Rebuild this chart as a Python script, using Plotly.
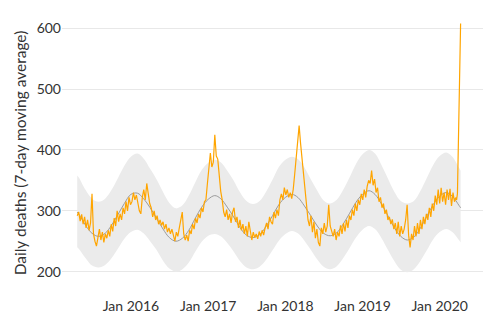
import pandas as pd
import plotly.graph_objects as go

# ---- observed daily deaths (7-day moving average), weekly readings (Wednesdays) ----
obs_2015 = [292, 298, 283, 294, 278, 290, 272, 285, 268, 280,
            328, 262, 250, 242, 256, 270, 252, 265, 248, 262,
            255, 268, 258, 278, 266, 288, 275, 300, 282, 295,
            285, 305, 295, 315, 300, 322, 310]
obs_2016 = [315, 330, 318, 326, 312, 300, 295, 322, 335, 318,
            345, 325, 312, 305, 290, 300, 285, 292, 278, 285,
            276, 282, 270, 278, 265, 272, 262, 270, 258, 250,
            265, 258, 272, 285, 298, 262, 252, 260, 250, 268,
            262, 278, 270, 288, 280, 295, 288, 305, 298, 315,
            318, 345]
obs_2017 = [365, 395, 372, 380, 425, 390, 385, 350, 332, 318,
            298, 290, 302, 285, 295, 280, 298, 305, 282, 290,
            272, 285, 268, 278, 262, 275, 258, 282, 262, 252,
            265, 256, 262, 254, 266, 258, 268, 260, 272, 280,
            270, 290, 282, 278, 298, 288, 302, 292, 318, 328,
            318, 338]
obs_2018 = [326, 335, 322, 330, 320, 335, 360, 385, 410, 440,
            410, 385, 350, 325, 300, 285, 275, 292, 265, 282,
            255, 270, 248, 242, 272, 262, 280, 265, 275, 310,
            275, 265, 258, 270, 252, 265, 258, 276, 262, 280,
            266, 285, 272, 292, 285, 302, 292, 312, 300, 318,
            310, 328]
obs_2019 = [318, 335, 322, 340, 350, 345, 366, 342, 352, 330,
            338, 315, 322, 305, 312, 295, 302, 285, 290, 278,
            286, 270, 280, 262, 282, 258, 275, 262, 270, 285,
            310, 260, 240, 262, 252, 275, 258, 280, 262, 285,
            270, 290, 278, 295, 285, 305, 290, 312, 300, 325,
            310, 335]
obs_2020 = [312, 338, 315, 330, 310, 335, 318, 336, 308, 330, 315, 322]

# final days of the series (the sharp rise)
spike_dates = ["2020-03-21", "2020-03-25", "2020-03-28", "2020-03-31",
               "2020-04-03", "2020-04-06", "2020-04-09"]
spike_vals = [318, 328, 395, 470, 535, 580, 608]

# ---- expected (seasonal baseline) and its range, monthly readings ----
exp_start_date, exp_end_date = "2015-04-22", "2020-04-09"
expected = [298,
            294, 276, 263, 258, 263, 276, 294, 312,
            327, 329, 320, 305, 288, 270, 256, 250, 255, 268, 288, 306,
            319, 325, 320, 306, 290, 272, 260, 256, 261, 274, 292, 310,
            322, 327, 322, 308, 292, 275, 263, 259, 264, 278, 296, 314,
            327, 333, 327, 311, 292, 272, 258, 252, 257, 271, 291, 310,
            324, 330, 324, 309,
            305]
upper = [358,
         354, 334, 320, 315, 320, 334, 354, 374,
         389, 394, 386, 369, 352, 331, 313, 304, 309, 325, 347, 367,
         379, 384, 380, 366, 350, 330, 316, 311, 316, 331, 351, 372,
         384, 389, 385, 371, 352, 333, 317, 312, 318, 334, 355, 377,
         393, 400, 394, 375, 353, 331, 316, 312, 316, 332, 354, 375,
         390, 396, 389, 371,
         366]
lower = [240,
         237, 222, 210, 207, 211, 222, 238, 254,
         265, 269, 263, 250, 236, 218, 205, 200, 204, 215, 233, 249,
         259, 262, 258, 247, 233, 217, 207, 204, 208, 219, 235, 251,
         262, 267, 263, 251, 236, 220, 208, 204, 209, 222, 239, 256,
         269, 275, 270, 255, 236, 217, 203, 199, 204, 217, 235, 253,
         265, 270, 265, 252,
         248]

y_ticks = [200, 300, 400, 500, 600]
x_tick_dates = ["2016-01-01", "2017-01-01", "2018-01-01", "2019-01-01", "2020-01-01"]
x_tick_text = ["Jan 2016", "Jan 2017", "Jan 2018", "Jan 2019", "Jan 2020"]

# ---- build series ----
weekly_vals = obs_2015 + obs_2016 + obs_2017 + obs_2018 + obs_2019 + obs_2020
weekly_dates = pd.date_range("2015-04-22", periods=len(weekly_vals), freq="7D")
obs_dates = list(weekly_dates) + list(pd.to_datetime(spike_dates))
obs_vals = weekly_vals + spike_vals

month_dates = pd.date_range("2015-05-01", "2020-04-01", freq="MS")
exp_dates = [pd.Timestamp(exp_start_date)] + list(month_dates) + [pd.Timestamp(exp_end_date)]

fig = go.Figure()
fig.add_trace(go.Scatter(x=exp_dates, y=upper, mode="lines",
                         line=dict(width=0, shape="spline", color="rgba(0,0,0,0)"),
                         hoverinfo="skip", showlegend=False))
fig.add_trace(go.Scatter(x=exp_dates, y=lower, mode="lines",
                         line=dict(width=0, shape="spline", color="rgba(0,0,0,0)"),
                         fill="tonexty", fillcolor="#ebebeb",
                         hoverinfo="skip", showlegend=False))
fig.add_trace(go.Scatter(x=exp_dates, y=expected, mode="lines",
                         line=dict(width=1, shape="spline", color="#9a9a9a"),
                         showlegend=False))
fig.add_trace(go.Scatter(x=obs_dates, y=obs_vals, mode="lines",
                         line=dict(width=1.2, color="#FFA500"),
                         showlegend=False))

fig.update_layout(
    width=487, height=331,
    margin=dict(l=62, r=4, t=10, b=35),
    paper_bgcolor="white", plot_bgcolor="white",
    font=dict(family="Lato, 'Open Sans', sans-serif", size=14, color="#333333"),
    xaxis=dict(range=["2015-02-09", "2020-07-24"], showgrid=False, zeroline=False,
               showline=False, ticks="", tickvals=x_tick_dates, ticktext=x_tick_text,
               tickfont=dict(size=14, color="#333333")),
    yaxis=dict(range=[160, 630], tickvals=y_ticks, showgrid=True, gridcolor="#e8e8e8",
               gridwidth=1, zeroline=False, showline=False, ticks="",
               tickfont=dict(size=14, color="#333333"),
               title=dict(text="Daily deaths (7-day moving average)", standoff=6,
                          font=dict(size=15.5, color="#333333"))),
)

fig.write_html("out.html")
